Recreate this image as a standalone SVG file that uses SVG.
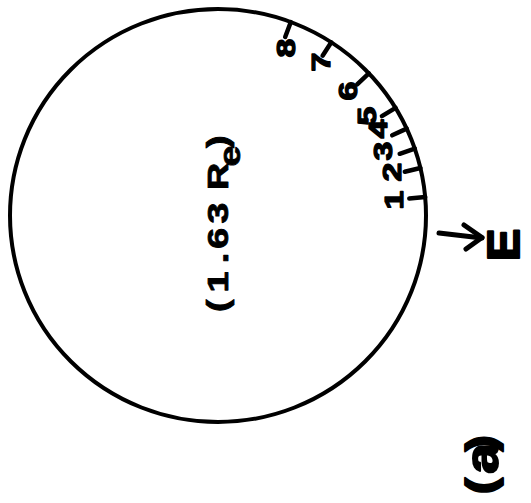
<svg xmlns="http://www.w3.org/2000/svg" width="531" height="503" viewBox="0 0 531 503">
<style>
.ln{fill:none;stroke:#000;stroke-linecap:round;stroke-linejoin:round}
.t{font-family:"Liberation Sans",Arial,sans-serif;font-weight:bold;fill:#000;stroke:#000;stroke-linejoin:round}
.d{font-size:26px;text-anchor:middle;stroke-width:1.3}
</style>
<rect width="531" height="503" fill="#fff"/>
<g id="sphere">
<ellipse cx="218" cy="215.5" rx="208" ry="206.5" class="ln" stroke-width="4"/>
<g transform="translate(228,312) rotate(-90) scale(1.3,1)">
<text class="t" font-size="29" stroke-width="0.8"><tspan x="0 15 37.5 48.7 68.1 85 93.9" y="0">(1.63 R</tspan><tspan x="111.9" y="12">e</tspan><tspan x="126.2" y="0">)</tspan></text>
</g>
</g>
<g id="ticks" class="ln" stroke-width="4.5">
<line x1="425.2" y1="197.1" x2="409.3" y2="198.5"/>
<line x1="420.4" y1="168" x2="404.8" y2="171.7"/>
<line x1="414.8" y1="148.6" x2="399.7" y2="153.8"/>
<line x1="406.7" y1="128.6" x2="392.2" y2="135.3"/>
<line x1="395.6" y1="107.9" x2="381.9" y2="116.2"/>
<line x1="368.8" y1="73.4" x2="357.2" y2="84.4"/>
<line x1="331.3" y1="42.3" x2="322.6" y2="55.7"/>
<line x1="290.8" y1="22" x2="285.2" y2="37"/>
</g>
<g id="tick-labels" class="t d">
<text transform="translate(394,200) rotate(-90) scale(1.3,1)" y="9">1</text>
<text transform="translate(392,172) rotate(-90) scale(1.3,1)" y="9">2</text>
<text transform="translate(383,151) rotate(-90) scale(1.3,1)" y="9">3</text>
<text transform="translate(378,129) rotate(-90) scale(1.3,1)" y="9">4</text>
<text transform="translate(367,116) rotate(-90) scale(1.3,1)" y="9">5</text>
<text transform="translate(348,91) rotate(-90) scale(1.3,1)" y="9">6</text>
<text transform="translate(321,62) rotate(-90) scale(1.3,1)" y="9">7</text>
<text transform="translate(286,48) rotate(-90) scale(1.3,1)" y="9">8</text>
</g>
<g id="connectors" class="ln" stroke-width="5">
<line x1="439" y1="233" x2="482" y2="238"/>
<polyline points="464,225 482,237.5 466,249"/>
</g>
<g id="field-label">
<text class="t" font-size="44" stroke-width="2.2" transform="translate(519,261) rotate(-90) scale(1.1,1)">E</text>
</g>
<g id="panel-label">
<text class="t" font-size="40" stroke-width="2" transform="translate(495,494) rotate(-90) scale(1.2,1)"><tspan x="0" y="0">(</tspan><tspan x="16.8" y="3" font-size="46">a</tspan><tspan x="35.7" y="0">)</tspan></text>
</g>
</svg>
